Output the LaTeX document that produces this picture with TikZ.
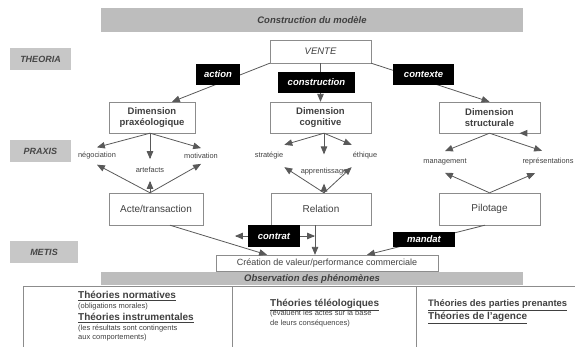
\documentclass[tikz,border=0pt]{standalone}
\usepackage{fontspec}
\setmainfont{Liberation Sans}
\usepackage{xcolor}
\usepackage{tikz}
\usetikzlibrary{calc,arrows}

\definecolor{bandgray}{gray}{0.74}
\definecolor{labgray}{gray}{0.78}
\definecolor{linegray}{gray}{0.35}
\definecolor{boxgray}{gray}{0.55}
\definecolor{txtgray}{gray}{0.25}

\tikzstyle{band}=[fill=bandgray, minimum width=422pt, inner sep=0pt, text=txtgray, font=\fontsize{9.5}{11}\selectfont\bfseries\itshape]
\tikzstyle{level}=[fill=labgray, minimum width=61pt, minimum height=22pt, inner sep=0pt, text=gray!55!black, font=\fontsize{9}{11}\selectfont\bfseries\itshape]
\tikzstyle{dimbox}=[draw=boxgray, fill=white, minimum height=31pt, inner sep=0pt, align=center, text=txtgray, font=\fontsize{9.5}{11}\selectfont\bfseries]
\tikzstyle{plainbox}=[draw=boxgray, fill=white, minimum height=32pt, inner sep=0pt, text=txtgray, font=\fontsize{10}{12}\selectfont]
\tikzstyle{tag}=[fill=black, text=white, inner sep=0pt, minimum height=21pt, font=\fontsize{9.5}{11}\selectfont\bfseries\itshape]
\tikzstyle{item}=[inner xsep=1pt, inner ysep=5pt, text=txtgray, font=\fontsize{7.4}{8}\selectfont]
\tikzstyle{link}=[draw=linegray, line width=0.8pt, -triangle 45]
\tikzstyle{theory}=[anchor=base west, inner sep=0pt, text=txtgray, font=\fontsize{10}{12}\selectfont\bfseries]
\tikzstyle{note}=[anchor=base west, inner sep=0pt, text=txtgray, font=\fontsize{7.5}{9}\selectfont]

\begin{document}
\begin{tikzpicture}[x=1pt,y=1pt]
    \useasboundingbox (0,0) rectangle (575,-346);
    % bands and levels
    \node[band, minimum height=24pt] (modele) at (312,-20) {Construction du mod\`ele};
    \node[level] (theoria) at (40.5,-59) {THEORIA};
    \node[level] (praxis) at (40.5,-151) {PRAXIS};
    \node[level, minimum width=68pt] (metis) at (44,-252) {METIS};
    % boxes
    \node[plainbox, minimum width=101pt, minimum height=23pt, font=\fontsize{9.5}{11}\selectfont\itshape] (vente) at (320.5,-51.5) {VENTE};
    \node[dimbox, minimum width=86pt] (dimprax) at (152,-117.5) {Dimension\\praxéologique};
    \node[dimbox, minimum width=101pt] (dimcog) at (320.5,-117.5) {Dimension\\cognitive};
    \node[dimbox, minimum width=101pt] (dimstruct) at (489.5,-117.5) {Dimension\\structurale};
    \node[plainbox, minimum width=94pt] (acte) at (156,-209) {Acte/transaction};
    \node[plainbox, minimum width=100pt] (relation) at (321,-209) {Relation};
    \node[plainbox, minimum width=101pt] (pilotage) at (489.5,-209) {Pilotage};
    \node[draw=boxgray, minimum width=222pt, minimum height=16pt, inner sep=0pt, text=txtgray, font=\fontsize{9}{11}\selectfont] (creation) at (327,-263) {Création de valeur/performance commerciale};
    \node[band, minimum height=13pt] (observation) at (312,-278.5) {Observation des phénomènes};
    % praxis items
    \node[item] (nego) at (97,-156) {négociation};
    \node[item, inner ysep=8pt] (artef) at (150,-170) {artefacts};
    \node[item] (motiv) at (201,-156) {motivation};
    \node[item, inner ysep=7.5pt] (strat) at (269,-156) {stratégie};
    \node[item, inner ysep=8pt] (apprent) at (324,-172) {apprentissage};
    \node[item, inner ysep=7.5pt] (ethique) at (365,-156) {éthique};
    \node[item, inner ysep=7.5pt] (manag) at (445,-162) {management};
    \node[item, inner ysep=7.5pt] (repres) at (548,-162) {représentations};
    % theoria links
    \draw[link] (vente.south west) -- ([xshift=20pt]dimprax.north);
    \draw[link] (vente.south) -- (dimcog.north);
    \draw[link] (vente.south east) -- (dimstruct.north);
    \node[tag, minimum width=44pt] (action) at (218,-74) {action};
    \node[tag, minimum width=77pt] (constr) at (316.5,-82.5) {construction};
    \node[tag, minimum width=61pt] (contexte) at (423.5,-74.5) {contexte};
    % praxis links
    \draw[link] (dimprax.south -| artef) -- (nego.north);
    \draw[link] (dimprax.south -| artef) -- (artef.north);
    \draw[link] (dimprax.south -| artef) -- (motiv.north);
    \draw[link] (acte.north -| artef) -- (nego.south);
    \draw[link] (acte.north -| artef) -- (artef.south);
    \draw[link] (acte.north -| artef) -- (motiv.south);
    \draw[link] (dimcog.south -| apprent) -- (strat.north east);
    \draw[link, shorten >=6pt] (dimcog.south -| apprent) -- (apprent.north);
    \draw[link] (dimcog.south -| apprent) -- (ethique.north west);
    \draw[link] (relation.north -| apprent) -- (strat.south east);
    \draw[link] (relation.north -| apprent) -- (apprent.south);
    \draw[link] (relation.north -| apprent) -- (ethique.south west);
    \draw[link] (dimstruct.south) -- (manag.north);
    \draw[link] (dimstruct.south) -- ([xshift=-6pt]repres.north);
    \draw[link] (pilotage.north) -- (manag.south);
    \draw[link] (pilotage.north) -- ([xshift=-13pt]repres.south);
    \draw[link] ([xshift=36pt]dimstruct.south) -- ([xshift=30pt]dimstruct.south);
    % metis links
    \draw[link] ([xshift=14pt]acte.south) -- coordinate[pos=0.67] (acteline) ([xshift=-60pt]creation.north);
    \draw[link] ([xshift=-6pt]relation.south) coordinate (relfoot) -- (relfoot |- creation.north);
    \draw[link] ([xshift=-4.5pt]pilotage.south) -- ([xshift=40pt]creation.north);
    \node[tag, minimum width=52pt, minimum height=22pt] (contrat) at (274,-236) {contrat};
    \node[tag, minimum width=62pt, minimum height=15pt] (mandat) at (424,-239.5) {mandat};
    \draw[link] (contrat.west) -- (contrat.west -| acteline);
    \draw[link] (contrat.east) -- (contrat.east -| relfoot);
    % table of theories
    \draw[boxgray, line width=0.6pt] (23,-350) -- (23,-286) -- (580,-286);
    \draw[boxgray, line width=0.6pt] (232,-286) -- (232,-350);
    \draw[boxgray, line width=0.6pt] (416,-286) -- (416,-350);
    \node[theory] (normat) at (78,-298.5) {\underline{Théories normatives}};
    \node[note] (normnote) at (78,-308) {(obligations morales)};
    \node[theory] (instru) at (78,-320.5) {\underline{Théories instrumentales}};
    \node[note] (instnote) at (78,-330.5) {(les résultats sont contingents};
    \node[note] (instnote2) at (78,-339.5) {aux comportements)};
    \node[theory] (teleo) at (270,-306.5) {\underline{Théories téléologiques}};
    \node[note] (teleonote) at (270,-315.5) {(évaluent les actes sur la base};
    \node[note] (teleonote2) at (270,-325.5) {de leurs conséquences)};
    \node[theory, font=\fontsize{9.4}{12}\selectfont\bfseries] (parties) at (428,-306.5) {\underline{Théories des parties prenantes}};
    \node[theory] (agence) at (428,-319.5) {\underline{Théories de l'agence}};
\end{tikzpicture}
\end{document}
